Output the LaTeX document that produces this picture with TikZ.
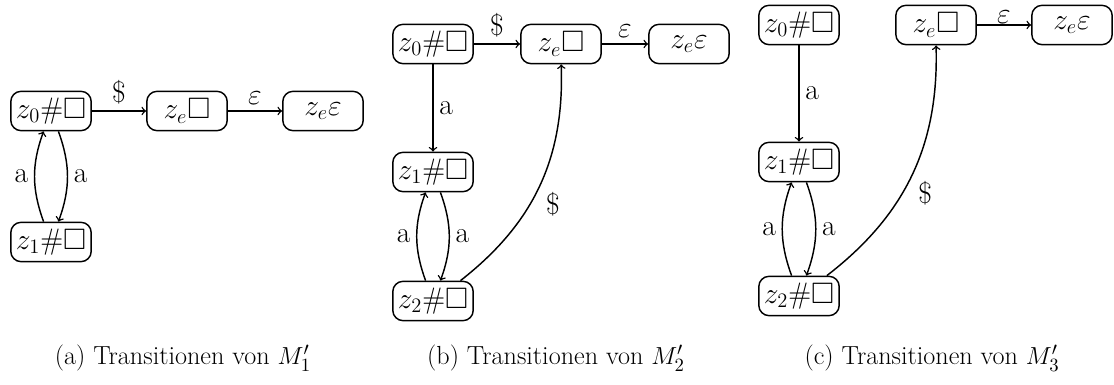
\documentclass[tikz,border=0pt]{standalone}
\usepackage{amssymb}

\tikzset{
  state/.style={draw,rounded corners=6pt,minimum width=47pt,minimum height=23pt,inner sep=1pt,font=\LARGE},
  trans/.style={->},
  lbl/.style={font=\LARGE},
  caption/.style={font=\fontsize{15.3}{18}\selectfont}
}

\begin{document}
\begin{tikzpicture}[x=0.02055cm,y=-0.02055cm,line width=0.85pt]
  \useasboundingbox (0,0) rectangle (1114,385);

  % (a)
  \node[state] (z0a) at (51,111) {$z_0\#\Box$};
  \node[state] (zea) at (187,111) {$z_e\Box$};
  \node[state] (zepsa) at (323,111) {$z_e\varepsilon$};
  \node[state] (z1a) at (51,242) {$z_1\#\Box$};

  \draw[trans] (z0a) -- node[lbl,above] {\$} (zea);
  \draw[trans] (zea) -- node[lbl,above] {$\varepsilon$} (zepsa);
  \draw[trans] (z1a) to[bend left=20] node[lbl,left] {a} (z0a);
  \draw[trans] (z0a) to[bend left=20] node[lbl,right] {a} (z1a);

  % (b)
  \node[state] (z0b) at (433,44) {$z_0\#\Box$};
  \node[state] (zeb) at (561,44) {$z_e\Box$};
  \node[state] (zepsb) at (689,44) {$z_e\varepsilon$};
  \node[state] (z1b) at (433,172) {$z_1\#\Box$};
  \node[state] (z2b) at (433,301) {$z_2\#\Box$};

  \draw[trans] (z0b) -- node[lbl,above] {\$} (zeb);
  \draw[trans] (zeb) -- node[lbl,above] {$\varepsilon$} (zepsb);
  \draw[trans] (z0b) -- node[lbl,right] {a} (z1b);
  \draw[trans] (z2b) to[bend left=20] node[lbl,left] {a} (z1b);
  \draw[trans] (z1b) to[bend left=20] node[lbl,right] {a} (z2b);
  \draw[trans] (z2b) to[bend right=27] node[lbl,below right] {\$} (zeb);

  % (c)
  \node[state] (z0c) at (799,25) {$z_0\#\Box$};
  \node[state] (zec) at (936,25) {$z_e\Box$};
  \node[state] (zepsc) at (1072,25) {$z_e\varepsilon$};
  \node[state] (z1c) at (799,162) {$z_1\#\Box$};
  \node[state] (z2c) at (799,296) {$z_2\#\Box$};

  \draw[trans] (zec) -- node[lbl,above,inner sep=0.5pt] {$\varepsilon$} (zepsc);
  \draw[trans] (z0c) -- node[lbl,right] {a} (z1c);
  \draw[trans] (z2c) to[bend left=20] node[lbl,left] {a} (z1c);
  \draw[trans] (z1c) to[bend left=20] node[lbl,right] {a} (z2c);
  \draw[trans] (z2c) to[bend right=27] node[lbl,below right] {\$} (zec);

  % captions
  \node[caption] (capa) at (183,358) {(a) Transitionen von $M_1'$};
  \node[caption] (capb) at (556,358) {(b) Transitionen von $M_2'$};
  \node[caption] (capc) at (932,358) {(c) Transitionen von $M_3'$};
\end{tikzpicture}
\end{document}
